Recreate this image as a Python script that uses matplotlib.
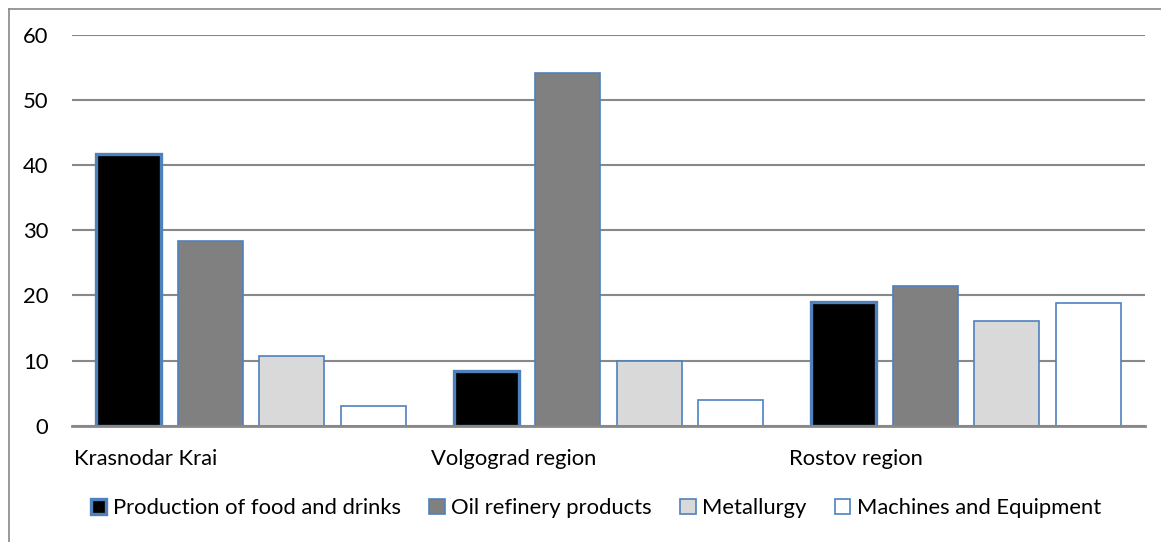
import matplotlib
matplotlib.use("Agg")
import matplotlib.pyplot as plt
from matplotlib.lines import Line2D
from matplotlib.patches import Patch
import numpy as np

categories = ["Krasnodar Krai", "Volgograd region", "Rostov region"]
series_names = ["Production of food and drinks", "Oil refinery products",
                "Metallurgy", "Machines and Equipment"]
food = [41.8, 8.4, 19.0]
oil = [28.3, 54.1, 21.5]
metallurgy = [10.7, 10.0, 16.1]
machines = [3.1, 3.9, 18.8]
y_ticks = [0, 10, 20, 30, 40, 50, 60]

series = [food, oil, metallurgy, machines]
fills = ["#000000", "#808080", "#D9D9D9", "#FFFFFF"]
edge = "#4F81BD"
edge_w = [2.4, 1.2, 1.2, 1.2]

plt.rcParams['font.family'] = ['Lato', 'DejaVu Sans']
W, H = 1161, 542
fs = 15.8
fig = plt.figure(figsize=(W / 100, H / 100), dpi=100)
ax = fig.add_axes([72 / W, (H - 425.7) / H, (1145 - 72) / W, (425.7 - 35) / H])

x = np.arange(len(categories))
offsets = [-0.342, -0.114, 0.114, 0.342]
width = 0.182
for vals, off, fc, lw in zip(series, offsets, fills, edge_w):
    ax.bar(x + off, vals, width=width, color=fc, edgecolor=edge, linewidth=lw, zorder=3)

ax.set_xlim(-0.5, len(categories) - 0.5)
ax.set_ylim(0, 60)
ax.set_yticks(y_ticks)
ax.yaxis.grid(True, color="#888888", linewidth=1.5, zorder=0)
ax.set_axisbelow(True)
for s in ["top", "right", "left"]:
    ax.spines[s].set_visible(False)
ax.spines["bottom"].set_color("#888888")
ax.spines["bottom"].set_linewidth(2)
ax.spines["bottom"].set_zorder(4)
ax.tick_params(axis="y", length=0, pad=17, labelsize=fs, labelcolor="#000000")
ax.set_xticks(x - 0.495)
ax.set_xticklabels(categories, ha="left")
ax.tick_params(axis="x", length=0, pad=17, labelsize=fs)

handles = [Patch(facecolor=fc, edgecolor=edge, linewidth=lw) for fc, lw in zip(fills, edge_w)]
fig.legend(handles, series_names, loc="center", bbox_to_anchor=(596 / W, 1 - 508 / H),
           ncol=4, frameon=False, fontsize=fs, handlelength=0.7, handleheight=0.7,
           handletextpad=0.3, columnspacing=1.3)

# chart frame (left and top visible)
fig.add_artist(Line2D([9 / W, 9 / W], [0, 1 - 9 / H], color="#888888", linewidth=1.2))
fig.add_artist(Line2D([9 / W, 1], [1 - 9 / H, 1 - 9 / H], color="#888888", linewidth=1.2))

fig.savefig("out.png", dpi=100)
